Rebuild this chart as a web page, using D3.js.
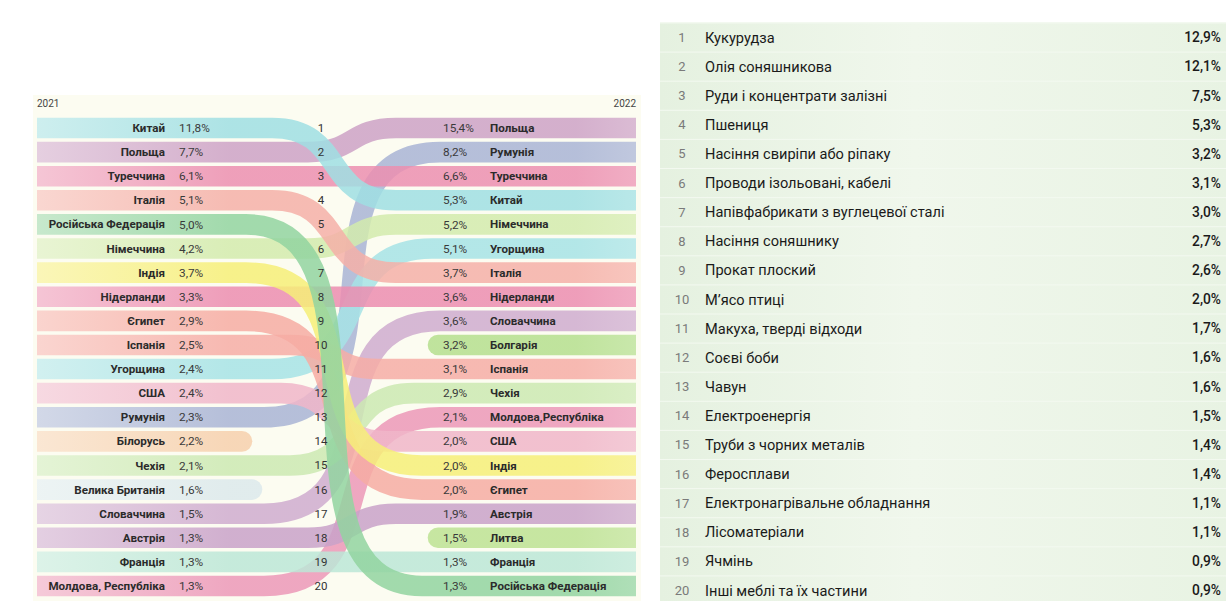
<!DOCTYPE html>
<html lang="uk">
<head>
<meta charset="UTF-8">
<title>Експорт України 2021–2022</title>
<script src="https://d3js.org/d3.v7.min.js"></script>
<style>
    body {
        margin: 0;
        padding: 0;
        background: #ffffff;
        font-family: 'Roboto', 'Noto Sans', sans-serif;
    }
    svg { display: block; }
    .name { font-size: 11.6px; font-weight: 700; fill: #2b2b2b; }
    .pct { font-size: 11.8px; fill: #3a3a3a; }
    .rank { font-size: 11.5px; fill: #333; }
    .year { font-size: 10px; fill: #444; }
    .t-rank { font-size: 13px; fill: #7a7a7a; }
    .t-name { font-size: 14.6px; fill: #1a1a1a; }
    .t-pct { font-size: 13.8px; font-weight: 500; fill: #1a1a1a; }
</style>
</head>
<body>
<svg id="chart" width="1226" height="601"></svg>
<script>
// ---- дані ----
var countries2021 = ["Китай", "Польща", "Туреччина", "Італія", "Російська Федерація", "Німеччина",
    "Індія", "Нідерланди", "Єгипет", "Іспанія", "Угорщина", "США", "Румунія", "Білорусь",
    "Чехія", "Велика Британія", "Словаччина", "Австрія", "Франція", "Молдова, Республіка"];
var shares2021 = [11.8, 7.7, 6.1, 5.1, 5.0, 4.2, 3.7, 3.3, 2.9, 2.5, 2.4, 2.4, 2.3, 2.2, 2.1, 1.6, 1.5, 1.3, 1.3, 1.3];

var countries2022 = ["Польща", "Румунія", "Туреччина", "Китай", "Німеччина", "Угорщина", "Італія",
    "Нідерланди", "Словаччина", "Болгарія", "Іспанія", "Чехія", "Молдова,Республіка", "США",
    "Індія", "Єгипет", "Австрія", "Литва", "Франція", "Російська Федерація"];
var shares2022 = [15.4, 8.2, 6.6, 5.3, 5.2, 5.1, 3.7, 3.6, 3.6, 3.2, 3.1, 2.9, 2.1, 2.0, 2.0, 2.0, 1.9, 1.5, 1.3, 1.3];

var goods = ["Кукурудза", "Олія соняшникова", "Руди і концентрати залізні", "Пшениця",
    "Насіння свиріпи або ріпаку", "Проводи ізольовані, кабелі", "Напівфабрикати з вуглецевої сталі",
    "Насіння соняшнику", "Прокат плоский", "М’ясо птиці", "Макуха, тверді відходи", "Соєві боби",
    "Чавун", "Електроенергія", "Труби з чорних металів", "Феросплави", "Електронагрівальне обладнання",
    "Лісоматеріали", "Ячмінь", "Інші меблі та їх частини"];
var goodsShares = [12.9, 12.1, 7.5, 5.3, 3.2, 3.1, 3.0, 2.7, 2.6, 2.0, 1.7, 1.6, 1.6, 1.5, 1.4, 1.4, 1.1, 1.1, 0.9, 0.9];

var years = ["2021", "2022"];

// кольори стрічок
var colors = {
    "Китай": "#9fdfe3", "Польща": "#cda2c6", "Туреччина": "#ec8fb0", "Італія": "#f5b0a8",
    "РосійськаФедерація": "#92d4a0", "Німеччина": "#d3ebad", "Індія": "#f6ef78",
    "Нідерланди": "#ec8db0", "Єгипет": "#f6aca3", "Іспанія": "#f6ada6", "Угорщина": "#a6e3e6",
    "США": "#f0b6c9", "Румунія": "#a9b4d5", "Білорусь": "#f6d0ad", "Чехія": "#cce9b2",
    "ВеликаБританія": "#dce9ec", "Словаччина": "#cfaccf", "Австрія": "#c9a2c9",
    "Франція": "#bce7d7", "Молдова,Республіка": "#ec98b8", "Болгарія": "#b5df8e", "Литва": "#bde293"
};

var key = function(s) { return s.replace(/\s+/g, ""); };
var fmt = function(v) { return d3.format(".1f")(v).replace(".", ",") + "%"; };

var svg = d3.select("#chart");
var defs = svg.append("defs");

// ---- ліва частина: стрічкова діаграма ----
var xL = 37, xR = 636;
var ranks = d3.range(1, 21);
var y = d3.scalePoint().domain(ranks).range([128, 586]);
var bandW = y.step() - 3.5;

svg.append("rect")
    .attr("x", 33).attr("y", 95).attr("width", 608).attr("height", 506)
    .attr("fill", "#fcfcf1");

defs.append("clipPath").attr("id", "clipL")
    .append("rect").attr("x", xL).attr("y", 90).attr("width", xR - xL).attr("height", 511);

// зібрати стрічки
var ribbons = [];
countries2021.forEach(function(c, i) {
    var j = countries2022.map(key).indexOf(key(c));
    ribbons.push({ name: key(c), r0: i + 1, r1: j >= 0 ? j + 1 : null });
});
countries2022.forEach(function(c, j) {
    if (countries2021.map(key).indexOf(key(c)) < 0)
        ribbons.push({ name: key(c), r0: null, r1: j + 1 });
});

ribbons.forEach(function(d, i) {
    var c = colors[d.name];
    var g = defs.append("linearGradient")
        .attr("id", "grad" + i)
        .attr("gradientUnits", "userSpaceOnUse")
        .attr("x1", xL).attr("x2", xR).attr("y1", 0).attr("y2", 0);
    g.append("stop").attr("offset", 0).attr("stop-color", d3.interpolateRgb(c, "#ffffff")(0.4));
    g.append("stop").attr("offset", 0.32).attr("stop-color", c);
    g.append("stop").attr("offset", 0.9).attr("stop-color", c);
    g.append("stop").attr("offset", 1).attr("stop-color", d3.interpolateRgb(c, "#ffffff")(0.15));
    d.grad = "url(#grad" + i + ")";
});

// крива: чим більший перехід, тим ширша і тим більше схожа на «лікоть»
function ribbonPath(d) {
    if (d.r0 && d.r1) {
        var y0 = y(d.r0), y1 = y(d.r1);
        var dr = Math.abs(d.r1 - d.r0);
        var mid = d.r1 < d.r0 ? 352 : 334;   // ті, що піднімаються, трохи правіше
        var h = Math.min(88, 35 + 9 * dr);
        var a = 0.5 + 0.4 * Math.min(1, dr / 12);
        var c0 = mid - h, c1 = mid + h, w = 2 * h;
        return "M" + xL + "," + y0 + "H" + c0 +
            "C" + (c0 + a * w) + "," + y0 + " " + (c1 - a * w) + "," + y1 + " " + c1 + "," + y1 +
            "H" + xR;
    }
    if (d.r0) return "M" + (xL - 20) + "," + y(d.r0) + "H" + (d.r0 === 14 ? 242 : 252);
    return "M" + 438 + "," + y(d.r1) + "H" + (xR + 20);
}

// малюємо знизу вгору, щоб верхні країни були зверху
var order = ribbons.slice().sort(function(a, b) {
    return (b.r0 || 99) - (a.r0 || 99);
});

svg.append("g")
    .attr("clip-path", "url(#clipL)")
    .selectAll("path")
    .data(order)
    .enter().append("path")
    .attr("d", ribbonPath)
    .attr("fill", "none")
    .attr("stroke", function(d) { return d.grad; })
    .attr("stroke-width", bandW)
    .attr("stroke-linecap", function(d) { return (d.r0 && d.r1) ? "butt" : "round"; })
    .attr("opacity", 0.85);

// підписи років
svg.append("text").attr("class", "year").attr("x", xL).attr("y", 107).text(years[0]);
svg.append("text").attr("class", "year").attr("x", xR).attr("y", 107)
    .attr("text-anchor", "end").text(years[1]);

// підписи 2021
var left = svg.append("g");
left.selectAll(".name")
    .data(countries2021)
    .enter().append("text")
    .attr("class", "name")
    .attr("x", 165)
    .attr("y", function(d, i) { return y(i + 1); })
    .attr("dy", "0.35em")
    .attr("text-anchor", "end")
    .text(function(d) { return d; });
left.selectAll(".pct")
    .data(shares2021)
    .enter().append("text")
    .attr("class", "pct")
    .attr("x", 179)
    .attr("y", function(d, i) { return y(i + 1); })
    .attr("dy", "0.35em")
    .text(fmt);

// номери
svg.append("g").selectAll("text")
    .data(ranks)
    .enter().append("text")
    .attr("class", "rank")
    .attr("x", 321)
    .attr("y", function(d) { return y(d); })
    .attr("dy", "0.35em")
    .attr("text-anchor", "middle")
    .text(function(d) { return d; });

// підписи 2022
var right = svg.append("g");
right.selectAll(".pct")
    .data(shares2022)
    .enter().append("text")
    .attr("class", "pct")
    .attr("x", 443)
    .attr("y", function(d, i) { return y(i + 1); })
    .attr("dy", "0.35em")
    .text(fmt);
right.selectAll(".name")
    .data(countries2022)
    .enter().append("text")
    .attr("class", "name")
    .attr("x", 490)
    .attr("y", function(d, i) { return y(i + 1); })
    .attr("dy", "0.35em")
    .text(function(d) { return d; });

// ---- права частина: таблиця товарів ----
var ty = d3.scaleBand().domain(ranks).range([23.5, 604.5]).paddingInner(0.035);
var tx0 = 660, tx1 = 1226;

var tg = defs.append("linearGradient").attr("id", "rowGrad");
tg.append("stop").attr("offset", 0).attr("stop-color", "#e5f1e0");
tg.append("stop").attr("offset", 0.45).attr("stop-color", "#f0f7ec");
tg.append("stop").attr("offset", 1).attr("stop-color", "#e8f3e3");

svg.append("rect")
    .attr("x", tx0).attr("y", 22).attr("width", tx1 - tx0).attr("height", 579)
    .attr("fill", "#f3f9f0");

var rows = svg.append("g").selectAll("g")
    .data(goods)
    .enter().append("g")
    .attr("transform", function(d, i) { return "translate(0," + ty(i + 1) + ")"; });

rows.append("rect")
    .attr("x", tx0).attr("width", tx1 - tx0)
    .attr("height", ty.bandwidth())
    .attr("fill", "url(#rowGrad)");

rows.append("text")
    .attr("class", "t-rank")
    .attr("x", 682)
    .attr("y", ty.bandwidth() / 2)
    .attr("dy", "0.35em")
    .attr("text-anchor", "middle")
    .text(function(d, i) { return i + 1; });

rows.append("text")
    .attr("class", "t-name")
    .attr("x", 705)
    .attr("y", ty.bandwidth() / 2)
    .attr("dy", "0.35em")
    .text(function(d) { return d; });

rows.append("text")
    .attr("class", "t-pct")
    .attr("x", 1221)
    .attr("y", ty.bandwidth() / 2)
    .attr("dy", "0.35em")
    .attr("text-anchor", "end")
    .text(function(d, i) { return fmt(goodsShares[i]); });
</script>
</body>
</html>
